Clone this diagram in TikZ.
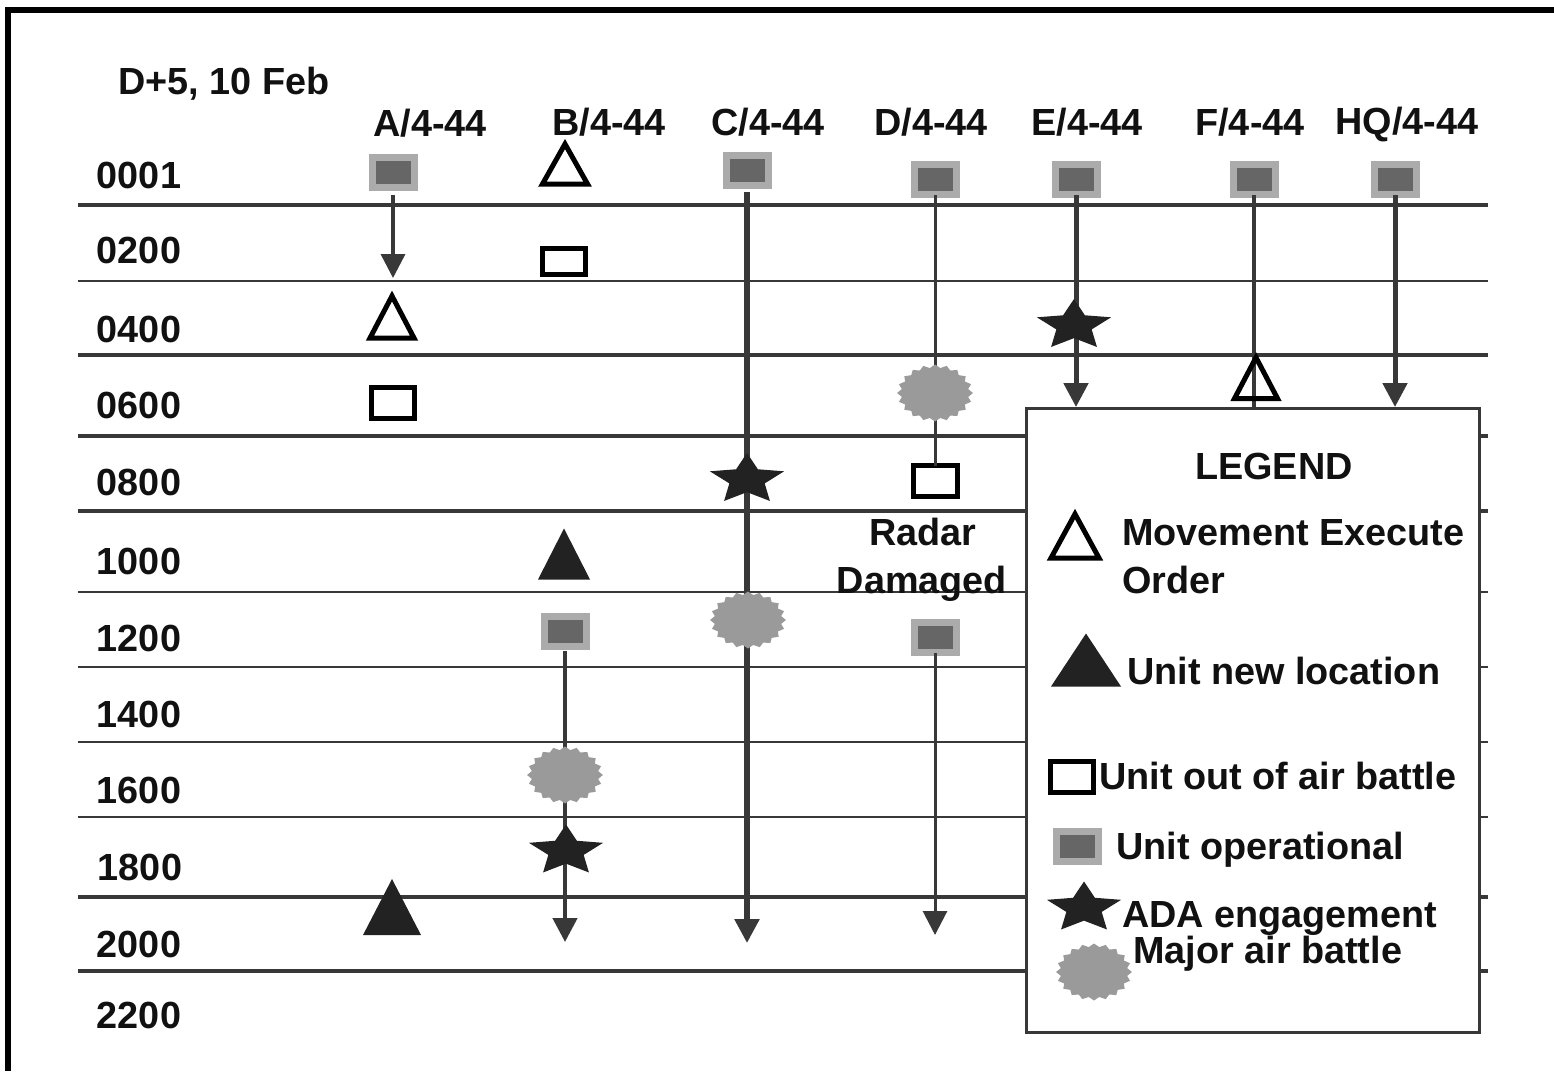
\documentclass[tikz,border=0pt]{standalone}
\usepackage{fontspec}
\setmainfont{Liberation Sans}
\usetikzlibrary{shapes.geometric,arrows.meta}
\definecolor{linegray}{HTML}{383838}
\definecolor{opouter}{HTML}{ABABAB}
\definecolor{opinner}{HTML}{666666}
\definecolor{burstgray}{HTML}{9A9A9A}
\definecolor{symblack}{HTML}{222222}
\definecolor{txtblack}{HTML}{111111}
\begin{document}
\begin{tikzpicture}[x=1pt,y=-1pt,
  txt/.style={font=\bfseries\fontsize{37.8}{45}\selectfont, text=txtblack, inner sep=0pt, text height=27pt, text depth=0pt},
  rowthin/.style={draw=linegray, line width=2.2pt},
  rowthick/.style={draw=linegray, line width=3.2pt},
  opsq/.style={rectangle, fill=opinner, draw=opouter, line width=7pt, minimum width=42pt, minimum height=30pt, inner sep=0pt, outer sep=0pt},
  orect/.style={rectangle, draw=black, line width=5pt, fill=white, minimum width=43pt, minimum height=31pt, inner sep=0pt, outer sep=0pt},
  astar/.style={star, star points=5, star point ratio=2.1, fill=symblack, minimum size=78pt, inner sep=0pt, outer sep=0pt, yscale=0.68},
  burst/.style={star, star points=20, star point ratio=1.13, fill=burstgray, minimum size=57pt, inner sep=0pt, outer sep=0pt, xscale=1.33},
  conn/.style={draw=linegray, -{Triangle[width=24pt,length=24pt]}},
  plainconn/.style={draw=linegray},
  legendbox/.style={rectangle, draw=linegray, line width=3pt, fill=white, minimum width=453pt, minimum height=624pt, inner sep=0pt},
  pics/otri/.style 2 args={code={\draw[black, line width=5pt, line join=miter] (-#1/2,#2/2) -- (0,-#2/2) -- (#1/2,#2/2) -- cycle;}},
  pics/ftri/.style 2 args={code={\fill[symblack] (-#1/2,#2/2) -- (0,-#2/2) -- (#1/2,#2/2) -- cycle;}},
]
\useasboundingbox (0,0) rectangle (1554,1071);
\fill[white] (0,0) rectangle (1554,1071);

% frame
\draw[line width=6pt, black] (5,10) -- (1554,10);
\draw[line width=6pt, black] (8,7) -- (8,1071);

% row lines
\draw[rowthick] (78,205) -- (1488,205);
\draw[rowthin]  (78,281) -- (1488,281);
\draw[rowthick] (78,355) -- (1488,355);
\draw[rowthick, line width=3.5pt] (78,436) -- (1488,436);
\draw[rowthick] (78,511) -- (1488,511);
\draw[rowthin]  (78,592) -- (1488,592);
\draw[rowthin]  (78,667) -- (1488,667);
\draw[rowthin]  (78,742) -- (1488,742);
\draw[rowthin]  (78,817) -- (1488,817);
\draw[rowthick] (78,897) -- (1488,897);
\draw[rowthick] (78,971) -- (1488,971);

% operational squares
\node[opsq] (opA)  at (393,172) {};
\node[opsq] (opC)  at (747,170) {};
\node[opsq] (opD)  at (935,179) {};
\node[opsq] (opE)  at (1076,179) {};
\node[opsq] (opF)  at (1254,179) {};
\node[opsq] (opHQ) at (1395,179) {};
\node[opsq] (opB2) at (565,631) {};
\node[opsq] (opD2) at (935,637) {};

% open rectangles
\node[orect, minimum height=26pt] (rectB) at (564,261) {};
\node[orect] (rectA) at (393,403) {};
\node[orect, minimum width=44pt] (rectD) at (935,481) {};

% connector ends
\coordinate (aEnd)  at (393,278);
\coordinate (cEnd)  at (747,943);
\coordinate (dEnd)  at (935,935);
\coordinate (eEnd)  at (1076,407);
\coordinate (fEnd)  at (1254,408);
\coordinate (hqEnd) at (1395,407);
\coordinate (bEnd)  at (565,942);

% connectors
\draw[conn, line width=3.5pt, shorten <=8pt] (opA) -- (aEnd);
\draw[conn, line width=5.5pt, shorten <=7pt] (opC) -- (cEnd);
\draw[plainconn, line width=3pt, shorten <=1pt] (opD) -- (rectD);
\draw[conn, line width=3pt, shorten <=1pt] (opD2) -- (dEnd);
\draw[conn, line width=5pt, shorten <=1pt] (opE) -- (eEnd);
\draw[plainconn, line width=4.5pt, shorten <=1pt] (opF) -- (fEnd);
\draw[conn, line width=5pt, shorten <=1pt] (opHQ) -- (hqEnd);
\draw[conn, line width=4.5pt, shorten <=5pt] (opB2) -- (bEnd);

% stars (ADA engagement)
\node[astar] (starE) at (1074,325.5) {};
\node[astar] (starC) at (747,479.5) {};
\node[astar] (starB) at (566,851) {};

% bursts (major air battle)
\node[burst] (burstD) at (935,393) {};
\node[burst] (burstC) at (748,620) {};
\node[burst] (burstB) at (565,775) {};

% triangles
\pic at (565,164)  {otri={45}{40}};
\pic at (392,317)  {otri={44}{42}};
\pic at (1256,378) {otri={43}{41}};
\pic at (564,554)  {ftri={52}{51}};
\pic at (392,907)  {ftri={58}{56}};

% legend
\node[legendbox] (legend) at (1253,720.5) {};
\pic at (1075,536) {otri={48}{44}};
\pic at (1086,660) {ftri={70}{53}};
\node[orect] (rectL) at (1072,777) {};
\node[opsq] (opL) at (1077,846) {};
\node[astar] (starL) at (1084,908) {};
\node[burst] (burstL) at (1094,972) {};

\node[txt] (lgtitle) at (1274,466) {LEGEND};
\node[txt, anchor=west] (lg1) at (1122,532) {Movement Execute};
\node[txt, anchor=west] (lg1b) at (1122,580) {Order};
\node[txt, anchor=west] (lg2) at (1127,671) {Unit new location};
\node[txt, anchor=west] (lg3) at (1099,776) {Unit out of air battle};
\node[txt, anchor=west] (lg4) at (1116,846) {Unit operational};
\node[txt, anchor=west] (lg5) at (1122,914) {ADA engagement};
\node[txt, anchor=west] (lg6) at (1133,950) {Major air battle};

% titles
\node[txt] (date) at (224,81) {D+5, 10 Feb};
\node[txt] (hA)  at (430,123) {A/4-44};
\node[txt] (hB)  at (609,122) {B/4-44};
\node[txt] (hC)  at (768,122) {C/4-44};
\node[txt] (hD)  at (931,122) {D/4-44};
\node[txt] (hE)  at (1087,122) {E/4-44};
\node[txt] (hF)  at (1250,122) {F/4-44};
\node[txt] (hHQ) at (1407,121) {HQ/4-44};

% time labels
\node[txt] (t0001) at (139,175) {0001};
\node[txt] (t0200) at (139,250) {0200};
\node[txt] (t0400) at (139,329) {0400};
\node[txt] (t0600) at (139,405) {0600};
\node[txt] (t0800) at (139,482) {0800};
\node[txt] (t1000) at (139,561) {1000};
\node[txt] (t1200) at (139,638) {1200};
\node[txt] (t1400) at (139,714) {1400};
\node[txt] (t1600) at (139,790) {1600};
\node[txt] (t1800) at (140,867) {1800};
\node[txt] (t2000) at (139,944) {2000};
\node[txt] (t2200) at (139,1015) {2200};

% radar note
\node[txt] (radar1) at (923,532) {Radar};
\node[txt] (radar2) at (922,580) {Damaged};
\end{tikzpicture}
\end{document}
